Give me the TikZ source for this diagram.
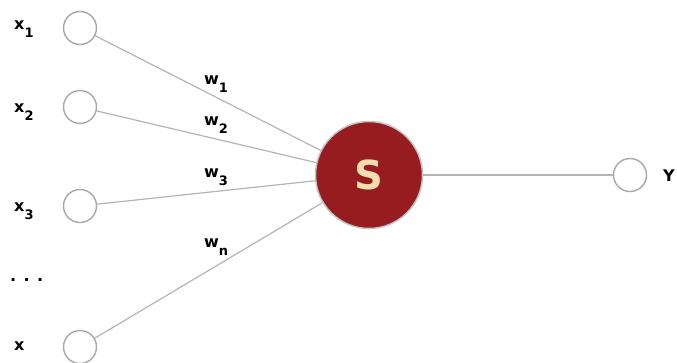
\documentclass[tikz,border=0pt]{standalone}
\usepackage{fontspec}
\setmainfont{DejaVu Sans}
\definecolor{sred}{HTML}{971C20}
\definecolor{scream}{HTML}{F6DDAE}
\definecolor{ringgray}{HTML}{A8A8A8}
\definecolor{linegray}{HTML}{B4B4B4}
\newcommand{\lbsub}[1]{\raisebox{-8pt}{\fontsize{13}{13}\selectfont #1}}
\begin{document}
\begin{tikzpicture}[x=1pt,y=-1pt,
  inp/.style={circle,draw=ringgray,line width=1.4pt,fill=white,minimum size=33pt,inner sep=0pt},
  sumnode/.style={circle,draw=linegray!80!white,line width=1.5pt,fill=sred,minimum size=107pt,inner sep=0pt,
    text=scream,font=\fontsize{40}{40}\selectfont\bfseries},
  conn/.style={draw=linegray,line width=1.2pt},
  lbl/.style={anchor=base west,inner sep=0pt,font=\fontsize{16}{16}\selectfont\bfseries}]
\useasboundingbox (0,0) rectangle (677,362);
\node[inp] (i1) at (80,28) {};
\node[inp] (i2) at (80,107) {};
\node[inp] (i3) at (80,206) {};
\node[inp] (in) at (80,347) {};
\node[sumnode] (s) at (369,175) {S};
\node[inp] (y) at (630,175) {};
\draw[conn] (i1) -- (s);
\draw[conn] (i2) -- (s);
\draw[conn] (i3) -- (s);
\draw[conn] (in) -- (s);
\draw[conn] (s) -- (y);
\node[lbl] (lx1) at (14,29.5) {x\lbsub{1}};
\node[lbl] (lx2) at (14,112) {x\lbsub{2}};
\node[lbl] (lx3) at (14,211.5) {x\lbsub{3}};
\node[lbl] (ldots) at (10,281) {. . .};
\node[lbl] (lxn) at (14,350) {x};
\node[lbl] (lw1) at (204,84) {w\lbsub{1}};
\node[lbl] (lw2) at (204,125) {w\lbsub{2}};
\node[lbl] (lw3) at (204,177) {w\lbsub{3}};
\node[lbl] (lwn) at (204,247) {w\lbsub{n}};
\node[lbl] (ly) at (663,181) {Y};
\end{tikzpicture}
\end{document}
